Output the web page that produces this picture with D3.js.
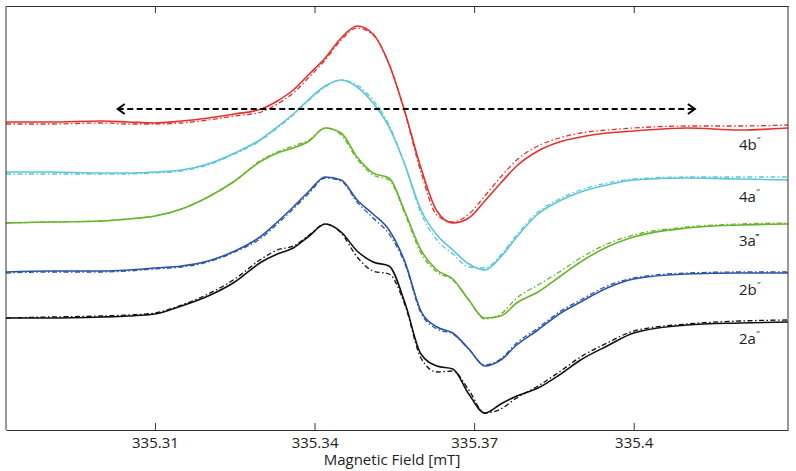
<!DOCTYPE html>
<html lang="en">
<head>
<meta charset="UTF-8"/>
<title>EPR spectra</title>
<script src="https://d3js.org/d3.v7.min.js"></script>
<style>
    body { margin: 0; background: #fff; }
    text { font-family: "Open Sans", sans-serif; fill: #222; }
    .axis path, .axis line { stroke: #333; stroke-width: 1px; }
    .axis text { font-size: 15px; }
</style>
</head>
<body>
<svg width="796" height="471"></svg>
<script>
// magnetic field grid (mT)
var field = [335.282, 335.29, 335.30, 335.305, 335.31, 335.315, 335.32, 335.325, 335.33, 335.333,
    335.336, 335.339, 335.342, 335.345, 335.348, 335.351, 335.354, 335.357, 335.360, 335.363,
    335.366, 335.369, 335.372, 335.375, 335.378, 335.382, 335.386, 335.39, 335.395, 335.40,
    335.41, 335.42, 335.429];

// signal (a.u., offsets included) - experiment (exp) and simulation (sim)
var exp4b = [308, 308, 309, 308, 307, 309, 312, 316, 321, 329, 340, 356, 372, 392, 404, 396,
    366, 318, 262, 219, 207, 212, 229, 247, 264, 279, 288, 293, 297, 299, 302, 300, 302];
var sim4b = [306, 306, 307, 306, 306, 307, 310, 314, 318, 326, 337, 353, 370, 390, 402, 395,
    366, 317, 258, 215, 208, 216, 234, 253, 270, 284, 292, 297, 300, 302, 304, 304, 305];
var exp4a = [258, 258, 257, 257, 258, 260, 266, 277, 291, 303, 316, 331, 344, 350, 343, 327,
    303, 265, 220, 195, 180, 166, 160, 173, 193, 216, 229, 238, 245, 250, 252, 251, 250];
var sim4a = [256, 256, 256, 256, 257, 259, 265, 276, 290, 302, 315, 330, 343, 350, 345, 330,
    305, 265, 217, 190, 176, 163, 162, 175, 195, 218, 231, 240, 247, 251, 253, 253, 253];
var exp3a = [207, 208, 209, 211, 214, 221, 233, 249, 269, 277, 282, 289, 302, 297, 273, 257,
    252, 218, 180, 160, 151, 130, 112, 114, 127, 138, 153, 168, 183, 193, 202, 205, 206];
var sim3a = [207, 208, 209, 211, 214, 221, 233, 249, 270, 278, 284, 290, 302, 295, 271, 255,
    250, 216, 177, 158, 150, 130, 111, 116, 132, 145, 158, 172, 186, 195, 203, 206, 207];
var exp2b = [158, 159, 159, 160, 162, 164, 169, 179, 194, 208, 223, 239, 253, 250, 230, 216,
    200, 168, 119, 103, 97, 81, 64, 70, 85, 100, 116, 128, 142, 151, 156, 157, 157];
var sim2b = [157, 158, 158, 159, 161, 163, 168, 178, 192, 206, 221, 237, 252, 249, 228, 212,
    196, 166, 117, 101, 96, 81, 65, 71, 87, 102, 118, 130, 144, 152, 157, 158, 158];
var exp2a = [112, 112, 113, 114, 116, 124, 134, 148, 168, 176, 182, 194, 206, 198, 179, 168,
    164, 127, 76, 64, 61, 36, 17, 26, 34, 42, 55, 70, 84, 97, 105, 107, 108];
var sim2a = [112, 113, 114, 115, 117, 125, 136, 151, 171, 180, 184, 195, 206, 197, 173, 159,
    156, 125, 72, 58, 59, 40, 17, 21, 32, 44, 58, 73, 87, 99, 106, 109, 110];

var names = ["4b", "4a", "3a", "2b", "2a"];
var primes = ["\u2033", "\u2033", "\u2034", "\u2033", "\u2033"];
var colors = ["#e3322e", "#5cc6d8", "#68b42e", "#2b54a4", "#111111"];
var expData = [exp4b, exp4a, exp3a, exp2b, exp2a];
var simData = [sim4b, sim4a, sim3a, sim2b, sim2a];

// arrow range (mT) and level (a.u.)
var arrowField = [335.303, 335.4115];
var arrowLevel = 321;

var tickVals = [335.31, 335.34, 335.37, 335.4];

var svg = d3.select("svg"),
    margin = {top: 6, right: 8, bottom: 41, left: 6},
    width = 796 - margin.left - margin.right,
    height = 471 - margin.top - margin.bottom;

var g = svg.append("g")
    .attr("transform", "translate(" + margin.left + "," + margin.top + ")");

var x = d3.scaleLinear().domain([335.282, 335.429]).range([0, width]);
var y = d3.scaleLinear().domain([0, 424]).range([height, 0]);

var line = d3.line()
    .x(function(d, i) { return x(field[i]); })
    .y(function(d) { return y(d); })
    .curve(d3.curveMonotoneX);

var defs = svg.append("defs");
defs.append("clipPath").attr("id", "clip")
    .append("rect").attr("width", width).attr("height", height);

var plot = g.append("g").attr("clip-path", "url(#clip)");

names.forEach(function(n, k) {
    plot.append("path")
        .attr("d", line(simData[k]))
        .attr("fill", "none")
        .attr("stroke", colors[k])
        .attr("stroke-width", 1.3)
        .attr("stroke-dasharray", "5,2.5,1.5,2.5");
    plot.append("path")
        .attr("d", line(expData[k]))
        .attr("fill", "none")
        .attr("stroke", colors[k])
        .attr("stroke-width", 1.6);

    var last = expData[k][expData[k].length - 1];
    var t = g.append("text")
        .attr("x", x(335.4198))
        .attr("y", y(last) + 22)
        .style("font-size", "15px")
        .text(n);
    t.append("tspan")
        .attr("dy", -6)
        .style("font-size", "9px")
        .text(primes[k]);
});

// double-headed dashed arrow
var ay = y(arrowLevel);
g.append("line")
    .attr("x1", x(arrowField[0])).attr("x2", x(arrowField[1]))
    .attr("y1", ay).attr("y2", ay)
    .attr("stroke", "#000")
    .attr("stroke-width", 2)
    .attr("stroke-dasharray", "6,3.5");
g.append("path")
    .attr("d", "M" + (x(arrowField[0]) + 7) + "," + (ay - 5) + "L" + x(arrowField[0]) + "," + ay +
        "L" + (x(arrowField[0]) + 7) + "," + (ay + 5))
    .attr("fill", "none").attr("stroke", "#000").attr("stroke-width", 2);
g.append("path")
    .attr("d", "M" + (x(arrowField[1]) - 7) + "," + (ay - 5) + "L" + x(arrowField[1]) + "," + ay +
        "L" + (x(arrowField[1]) - 7) + "," + (ay + 5))
    .attr("fill", "none").attr("stroke", "#000").attr("stroke-width", 2);

// axes
g.append("g")
    .attr("class", "axis")
    .attr("transform", "translate(0," + height + ")")
    .call(d3.axisBottom(x).tickValues(tickVals).tickFormat(d3.format("")).tickSizeInner(-7).tickSizeOuter(0).tickPadding(7));
g.append("g")
    .attr("class", "axis")
    .call(d3.axisTop(x).tickValues(tickVals).tickFormat("").tickSizeInner(-7).tickSizeOuter(0));
g.append("line").attr("x1", 0).attr("x2", 0).attr("y1", 0).attr("y2", height)
    .attr("stroke", "#333");
g.append("line").attr("x1", width).attr("x2", width).attr("y1", 0).attr("y2", height)
    .attr("stroke", "#333");
g.selectAll(".axis text").style("fill", "#222");

g.append("text")
    .attr("x", 386)
    .attr("y", height + 35)
    .attr("text-anchor", "middle")
    .style("font-size", "15px")
    .text("Magnetic Field [mT]");
</script>
</body>
</html>
